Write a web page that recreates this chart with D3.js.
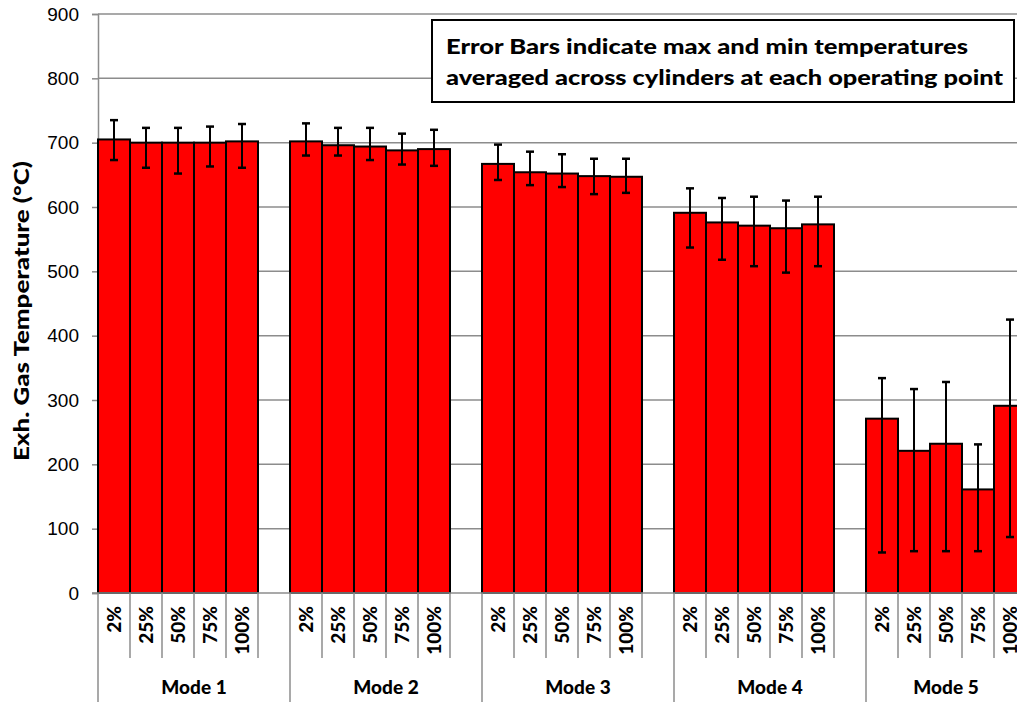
<!DOCTYPE html>
<html>
<head>
<meta charset="utf-8">
<script src="https://cdn.jsdelivr.net/npm/d3@7"></script>
<style>
  body { margin: 0; background: #fff; }
  svg { display: block; font-family: Lato, "Open Sans", sans-serif; }
</style>
</head>
<body>
<svg class="bar_chart"></svg>
<script>
// data
const modes = ['Mode 1', 'Mode 2', 'Mode 3', 'Mode 4', 'Mode 5'];
const loads = ['2%', '25%', '50%', '75%', '100%'];
const meanTemp = [
  [705, 700, 700, 700, 702],
  [702, 696, 694, 688, 690],
  [667, 654, 652, 648, 647],
  [591, 576, 571, 567, 573],
  [271, 221, 232, 161, 291]
];
const maxTemp = [
  [735, 723, 723, 725, 729],
  [730, 723, 723, 714, 720],
  [697, 686, 682, 675, 675],
  [629, 614, 616, 610, 616],
  [334, 317, 328, 231, 425]
];
const minTemp = [
  [673, 661, 652, 663, 661],
  [680, 680, 673, 666, 664],
  [642, 634, 631, 620, 622],
  [537, 518, 508, 498, 508],
  [63, 65, 65, 65, 87]
];
const yTicks = [0, 100, 200, 300, 400, 500, 600, 700, 800, 900];
const yLabel = 'Exh. Gas Temperature (°C)';
const note = ['Error Bars indicate max and min temperatures',
              'averaged across cylinders at each operating point'];

const config = {
  width: 1017, height: 702,
  left: 98, right: 1058, top: 14, bottom: 593
};

let svg = d3.select('.bar_chart')
  .attr('width', config.width)
  .attr('height', config.height);

let rows = [];
modes.forEach((m, i) => {
  loads.forEach((l, j) => {
    rows.push({mode: m, load: l, v: meanTemp[i][j], hi: maxTemp[i][j], lo: minTemp[i][j]});
  });
});

let y = d3.scaleLinear().domain([0, 900]).range([config.bottom, config.top]);

let x0 = d3.scaleBand().domain(modes).range([config.left, config.right]);
let x1 = d3.scaleBand().domain(loads).range([0, x0.bandwidth() * 5 / 6]);

const gridColor = '#8c8c8c';

// gridlines
svg.append('g')
  .selectAll('line')
  .data(yTicks.filter(d => d > 0))
  .enter().append('line')
  .attr('x1', config.left).attr('x2', config.width)
  .attr('y1', d => y(d)).attr('y2', d => y(d))
  .style('stroke', gridColor)
  .style('stroke-width', 1.5);

// y axis
let yAxis = svg.append('g')
  .attr('transform', `translate(${config.left},0)`)
  .call(d3.axisLeft(y).tickValues(yTicks).tickSize(6).tickPadding(13));
yAxis.select('.domain').style('stroke', gridColor).style('stroke-width', 1.5);
yAxis.selectAll('.tick line').style('stroke', gridColor).style('stroke-width', 1.5);
yAxis.selectAll('.tick text')
  .style('font-size', '19px')
  .style('fill', '#000');

// bars
svg.append('g')
  .selectAll('rect')
  .data(rows)
  .enter().append('rect')
  .attr('x', d => x0(d.mode) + x1(d.load))
  .attr('y', d => y(d.v))
  .attr('width', x1.bandwidth())
  .attr('height', d => y(0) - y(d.v))
  .style('fill', '#ff0000')
  .style('stroke', '#000')
  .style('stroke-width', 2);

// error bars
let err = svg.append('g')
  .selectAll('g')
  .data(rows)
  .enter().append('g')
  .attr('transform', d => `translate(${x0(d.mode) + x1(d.load) + x1.bandwidth() / 2},0)`);
err.append('line')
  .attr('y1', d => y(d.hi)).attr('y2', d => y(d.lo))
  .style('stroke', '#000').style('stroke-width', 2);
err.append('line')
  .attr('x1', -4).attr('x2', 4)
  .attr('y1', d => y(d.hi)).attr('y2', d => y(d.hi))
  .style('stroke', '#000').style('stroke-width', 2.5);
err.append('line')
  .attr('x1', -4).attr('x2', 4)
  .attr('y1', d => y(d.lo)).attr('y2', d => y(d.lo))
  .style('stroke', '#000').style('stroke-width', 2.5);

// category axis
svg.append('line')
  .attr('x1', config.left - 6).attr('x2', config.width)
  .attr('y1', y(0)).attr('y2', y(0))
  .style('stroke', gridColor).style('stroke-width', 1.5);

let groups = svg.append('g')
  .selectAll('g')
  .data(modes)
  .enter().append('g')
  .attr('transform', d => `translate(${x0(d)},0)`);

// group dividers
groups.append('line')
  .attr('y1', y(0)).attr('y2', config.height)
  .style('stroke', gridColor).style('stroke-width', 1.5);

// sub dividers
groups.selectAll('.sub')
  .data(loads.slice(1).concat(['end']))
  .enter().append('line')
  .attr('class', 'sub')
  .attr('x1', d => d === 'end' ? x1.range()[1] : x1(d))
  .attr('x2', d => d === 'end' ? x1.range()[1] : x1(d))
  .attr('y1', y(0)).attr('y2', 658)
  .style('stroke', gridColor).style('stroke-width', 1.5);

// load labels
groups.selectAll('.load')
  .data(loads)
  .enter().append('text')
  .attr('class', 'load')
  .attr('transform', d => `translate(${x1(d) + x1.bandwidth() / 2 + 7},606) rotate(-90)`)
  .attr('text-anchor', 'end')
  .style('font-size', '19px')
  .style('font-weight', 900)
  .text(d => d);

// mode labels
groups.append('text')
  .attr('class', 'mode')
  .attr('x', x0.bandwidth() / 2)
  .attr('y', 694)
  .attr('text-anchor', 'middle')
  .style('font-size', '19px')
  .style('font-weight', 900)
  .text(d => d);
groups.filter(d => d === 'Mode 5').select('.mode')
  .attr('x', x1.range()[1] / 2);

// y axis title
svg.append('text')
  .attr('transform', 'translate(29,311) rotate(-90)')
  .attr('text-anchor', 'middle')
  .attr('textLength', 300)
  .attr('lengthAdjust', 'spacingAndGlyphs')
  .style('font-size', '21px')
  .style('font-weight', 900)
  .text(yLabel);

// note box
let box = svg.append('g');
box.append('rect')
  .attr('x', 432).attr('y', 20)
  .attr('width', 582).attr('height', 82)
  .style('fill', '#fff')
  .style('stroke', '#000')
  .style('stroke-width', 2);
box.selectAll('text')
  .data(note)
  .enter().append('text')
  .attr('x', 446)
  .attr('y', (d, i) => 54 + i * 31)
  .attr('textLength', (d, i) => i === 0 ? 522 : 557)
  .attr('lengthAdjust', 'spacingAndGlyphs')
  .style('font-size', '21px')
  .style('font-weight', 900)
  .text(d => d);
</script>
</body>
</html>
